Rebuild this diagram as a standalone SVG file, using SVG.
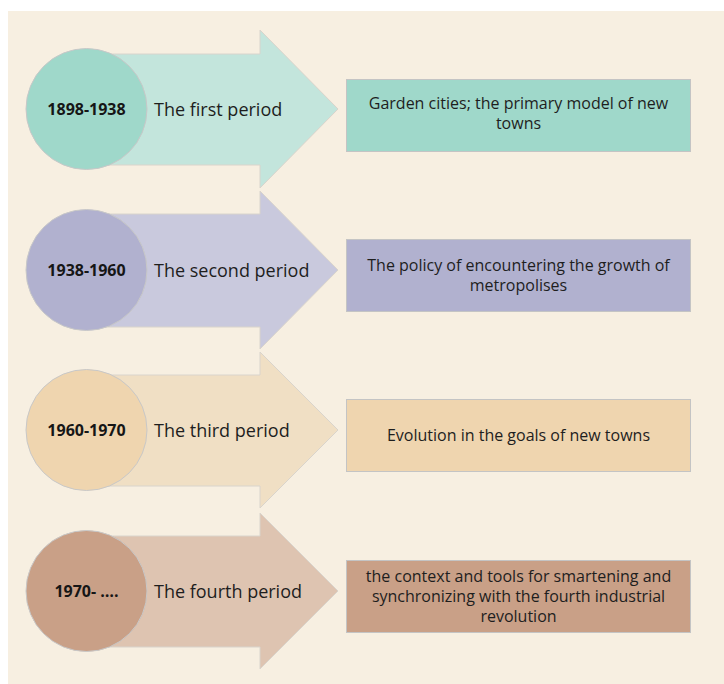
<svg xmlns="http://www.w3.org/2000/svg" width="724" height="684" viewBox="0 0 724 684">
  <style>
    .panel { fill: #f7efe1; }
    .arrow { stroke: #d9d4cc; stroke-width: 1; }
    .disc { stroke: #c8c8c8; stroke-width: 1; }
    .box { stroke: #c4c4c4; stroke-width: 1; }
    .year { font-family: "Open Sans", "Noto Sans", sans-serif; font-weight: bold; font-size: 16px; fill: #161616; text-anchor: middle; }
    .period { font-family: "Open Sans", "Noto Sans", sans-serif; font-size: 18px; fill: #1e1e1e; }
    .desc { font-family: "Open Sans", "Noto Sans", sans-serif; font-size: 16px; fill: #1e1e1e; text-anchor: middle; }
    .g1 .disc, .g1 .box { fill: #9fd8ca; } .g1 .arrow { fill: #c3e5dc; }
    .g2 .disc, .g2 .box { fill: #b1b1cf; } .g2 .arrow { fill: #c9c9dd; }
    .g3 .disc, .g3 .box { fill: #efd5af; } .g3 .arrow { fill: #f0dfc4; }
    .g4 .disc, .g4 .box { fill: #c9a087; } .g4 .arrow { fill: #dec4b1; }
  </style>

  <rect class="panel" x="8" y="11" width="716" height="673"/>

  <!-- first period -->
  <g id="period1" class="g1">
    <path class="arrow" d="M86,54 H260 V30 L338,109 L260,188 V165 H86 Z"/>
    <circle class="disc" cx="86.5" cy="109" r="60.5"/>
    <text class="year" x="86.5" y="115">1898-1938</text>
    <text class="period" x="154" y="116">The first period</text>
  </g>
  <g id="desc1" class="g1">
    <rect class="box" x="346.5" y="79.5" width="344" height="72"/>
    <text class="desc" x="518.5" y="109">Garden cities; the primary model of new</text>
    <text class="desc" x="518.5" y="129">towns</text>
  </g>

  <!-- second period -->
  <g id="period2" class="g2">
    <path class="arrow" d="M86,214 H260 V191 L338,270 L260,349 V327 H86 Z"/>
    <circle class="disc" cx="86.5" cy="270" r="60.5"/>
    <text class="year" x="86.5" y="276">1938-1960</text>
    <text class="period" x="154" y="277">The second period</text>
  </g>
  <g id="desc2" class="g2">
    <rect class="box" x="346.5" y="239.5" width="344" height="72"/>
    <text class="desc" x="518.5" y="271">The policy of encountering the growth of</text>
    <text class="desc" x="518.5" y="291">metropolises</text>
  </g>

  <!-- third period -->
  <g id="period3" class="g3">
    <path class="arrow" d="M86,375 H260 V352 L338,430 L260,508 V486 H86 Z"/>
    <circle class="disc" cx="86.5" cy="430" r="60.5"/>
    <text class="year" x="86.5" y="436">1960-1970</text>
    <text class="period" x="154" y="437">The third period</text>
  </g>
  <g id="desc3" class="g3">
    <rect class="box" x="346.5" y="399.5" width="344" height="72"/>
    <text class="desc" x="518.5" y="441">Evolution in the goals of new towns</text>
  </g>

  <!-- fourth period -->
  <g id="period4" class="g4">
    <path class="arrow" d="M86,536 H260 V513 L338,591 L260,669 V647 H86 Z"/>
    <circle class="disc" cx="86.5" cy="591" r="60.5"/>
    <text class="year" x="86.5" y="597">1970- ….</text>
    <text class="period" x="154" y="598">The fourth period</text>
  </g>
  <g id="desc4" class="g4">
    <rect class="box" x="346.5" y="560.5" width="344" height="72"/>
    <text class="desc" x="518.5" y="582">the context and tools for smartening and</text>
    <text class="desc" x="518.5" y="602">synchronizing with the fourth industrial</text>
    <text class="desc" x="518.5" y="622">revolution</text>
  </g>

  <g id="connectors"/>
</svg>
